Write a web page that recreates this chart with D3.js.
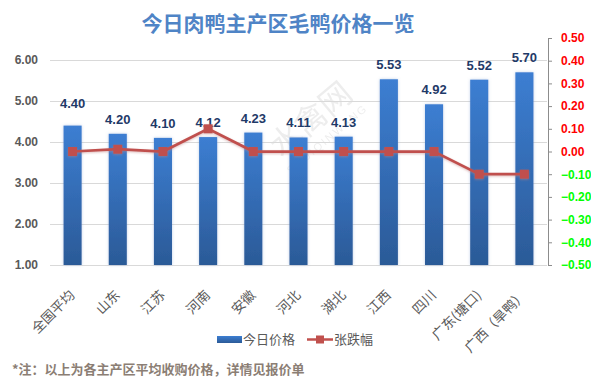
<!DOCTYPE html>
<html><head><meta charset="utf-8">
<script src="https://cdn.jsdelivr.net/npm/d3@7/dist/d3.min.js"></script>
<style>
html,body{margin:0;padding:0;background:#fff;}
svg{display:block;}
</style></head>
<body>
<script>
const categories = ["全国平均","山东","江苏","河南","安徽","河北","湖北","江西","四川","广东(塘口)","广西（旱鸭）"];
const prices = [4.40,4.20,4.10,4.12,4.23,4.11,4.13,5.53,4.92,5.52,5.70];
const changes = [0.00,0.01,0.00,0.10,0.00,0.00,0.00,0.00,0.00,-0.10,-0.10];
const leftTicks = [1,2,3,4,5,6];
const rightTicks = [-0.5,-0.4,-0.3,-0.2,-0.1,0,0.1,0.2,0.3,0.4,0.5];
const seriesNames = ["今日价格","张跌幅"];
const title = "今日肉鸭主产区毛鸭价格一览";
const note = "*注：以上为各主产区平均收购价格，详情见报价单";

const W = 591, H = 392;
const svg = d3.select("body").append("svg").attr("width", W).attr("height", H);
const defs = svg.append("defs");
const grad = defs.append("linearGradient").attr("id","barGrad").attr("x1",0).attr("y1",0).attr("x2",0).attr("y2",1);
grad.append("stop").attr("offset","0%").attr("stop-color","#3C7ED2");
grad.append("stop").attr("offset","100%").attr("stop-color","#2B5A97");
const sh = defs.append("filter").attr("id","shadow").attr("x","-50%").attr("y","-50%").attr("width","200%").attr("height","200%");
sh.append("feDropShadow").attr("dx",0).attr("dy",0).attr("stdDeviation",1.5).attr("flood-color","#7f9fd0").attr("flood-opacity",0.5);
const sh2 = defs.append("filter").attr("id","shadow2").attr("x","-20%").attr("y","-50%").attr("width","140%").attr("height","200%");
sh2.append("feDropShadow").attr("dx",0).attr("dy",1).attr("stdDeviation",1.2).attr("flood-color","#c08080").attr("flood-opacity",0.5);

const x = d3.scaleBand().domain(categories).range([50,547]).paddingInner(0.6).paddingOuter(0.3);
const y = d3.scaleLinear().domain([1,6]).range([265,60]);
const y2 = d3.scaleLinear().domain([-0.5,0.5]).range([265,38]);

// title
svg.append("text").attr("x",278).attr("y",31).attr("text-anchor","middle")
  .attr("font-family","'Noto Sans CJK SC'").attr("font-weight","bold").attr("font-size",21)
  .attr("fill","#4F84C6").text(title);

// watermark
const wm = svg.append("g").attr("transform","translate(318,128) rotate(-40)").attr("opacity",0.1);
wm.append("text").attr("text-anchor","middle").attr("font-family","'Noto Sans CJK SC'").attr("font-size",32).attr("fill","#555").text("水禽网");
wm.append("text").attr("y",18).attr("text-anchor","middle").attr("font-family","'Liberation Sans'").attr("font-size",11).attr("letter-spacing",2).attr("fill","#555").text("SHUIQINWANG");

// gridlines
svg.append("g").selectAll("line").data(leftTicks).join("line")
  .attr("x1",50).attr("x2",547).attr("y1",d=>y(d)+0.5).attr("y2",d=>y(d)+0.5)
  .attr("stroke","#D9D9D9").attr("stroke-width",1);

// left axis
const la = svg.append("g").attr("transform","translate(38,0)")
  .call(d3.axisLeft(y).tickValues(leftTicks).tickFormat(d3.format(".2f")).tickSize(0).tickPadding(0));
la.select(".domain").remove();
la.selectAll("text").attr("font-family","'Liberation Sans'").attr("font-weight","bold").attr("font-size",12).attr("fill","#595959");

// right axis
const ra = svg.append("g").attr("transform","translate(548,0)")
  .call(d3.axisRight(y2).tickValues(rightTicks).tickFormat(d3.format(".2f")).tickSize(4).tickSizeOuter(4).tickPadding(9));
ra.select(".domain").attr("stroke","#8C8C8C");
ra.selectAll("line").attr("stroke","#8C8C8C");
ra.selectAll("text").attr("font-family","'Liberation Sans'").attr("font-weight","bold").attr("font-size",12)
  .attr("fill",d=>d<0?"#00FF00":"#FF0000");

// bars
svg.append("g").selectAll("rect").data(prices).join("rect")
  .attr("x",(d,i)=>x(categories[i])).attr("width",x.bandwidth())
  .attr("y",d=>y(d)).attr("height",d=>y(1)-y(d))
  .attr("fill","url(#barGrad)").attr("filter","url(#shadow)");

// bar labels
svg.append("g").selectAll("text").data(prices).join("text")
  .attr("x",(d,i)=>x(categories[i])+x.bandwidth()/2)
  .attr("y",(d,i)=>y(d)-(i===0?18:10))
  .attr("text-anchor","middle").attr("font-family","'Liberation Sans'").attr("font-weight","bold").attr("font-size",13)
  .attr("fill","#1F3A68").text(d=>d.toFixed(2));

// line
const line = d3.line().x((d,i)=>x(categories[i])+x.bandwidth()/2).y(d=>y2(d));
const lg = svg.append("g").attr("filter","url(#shadow2)");
lg.append("path").datum(changes).attr("d",line).attr("fill","none").attr("stroke","#C0504D").attr("stroke-width",2.75);
lg.selectAll("rect").data(changes).join("rect")
  .attr("x",(d,i)=>x(categories[i])+x.bandwidth()/2-4.5).attr("y",d=>y2(d)-4.5)
  .attr("width",9).attr("height",9).attr("fill","#C0504D");

// x labels
svg.append("g").selectAll("text").data(categories).join("text")
  .attr("transform",d=>`translate(${x(d)+x.bandwidth()/2+3},296) rotate(-45)`)
  .attr("text-anchor","end").attr("font-family","'Noto Sans CJK SC'").attr("font-size",13.5)
  .attr("fill","#595959").text(d=>d);

// legend
const leg = svg.append("g");
leg.append("rect").attr("x",217).attr("y",336).attr("width",25).attr("height",7).attr("fill","url(#barGrad)");
leg.append("text").attr("x",243).attr("y",344).attr("font-family","'Noto Sans CJK SC'").attr("font-size",13).attr("fill","#595959").text(seriesNames[0]);
leg.append("line").attr("x1",307).attr("x2",333).attr("y1",339.5).attr("y2",339.5).attr("stroke","#C0504D").attr("stroke-width",2.5);
leg.append("rect").attr("x",316).attr("y",335.5).attr("width",8).attr("height",8).attr("fill","#C0504D");
leg.append("text").attr("x",334).attr("y",344).attr("font-family","'Noto Sans CJK SC'").attr("font-size",13).attr("fill","#595959").text(seriesNames[1]);

// note
svg.append("text").attr("x",12).attr("y",374).attr("font-family","'Noto Sans CJK SC'").attr("font-weight","bold").attr("font-size",13)
  .attr("fill","#8B7E74").text(note);
</script>
</body></html>
